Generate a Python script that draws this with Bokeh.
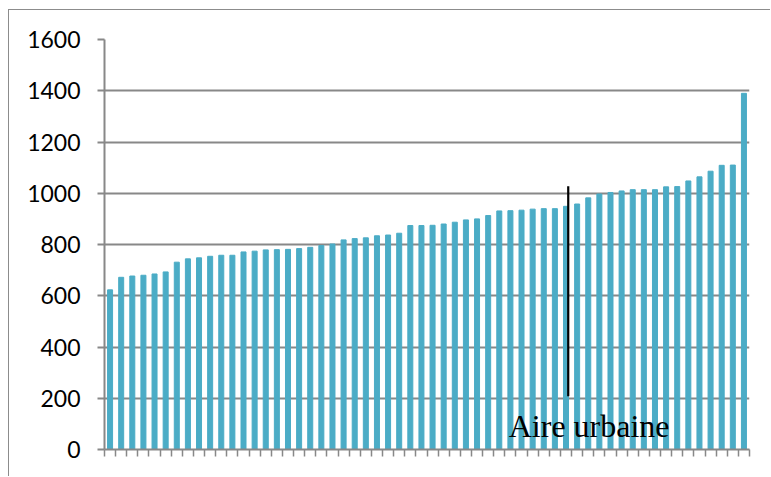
from bokeh.plotting import figure
from bokeh.models import ColumnDataSource, Range1d, FixedTicker, Label
from bokeh.embed import file_html
from bokeh.resources import INLINE

# Data (58 sorted values)
values = [623, 672, 677, 680, 685, 693, 731, 744, 748, 754,
          758, 758, 771, 774, 779, 780, 781, 784, 789, 796,
          802, 818, 823, 826, 834, 837, 844, 874, 874, 875,
          880, 887, 896, 900, 913, 931, 932, 934, 938, 940,
          940, 949, 958, 982, 997, 1003, 1009, 1014, 1014, 1014,
          1025, 1026, 1048, 1064, 1086, 1109, 1110, 1390]
positions = list(range(1, len(values) + 1))
y_ticks = [0, 200, 400, 600, 800, 1000, 1200, 1400, 1600]
marker_x = [42.2, 42.2]
marker_y = [208, 1027]
annotation_text = "Aire urbaine"

n = len(values)
src = ColumnDataSource(dict(x=positions, top=values))

p = figure(width=762, height=467, output_backend="svg", toolbar_location=None,
           x_range=Range1d(0.5, n + 0.5), y_range=Range1d(0, 1600),
           min_border_left=95, min_border_right=22, min_border_top=29, min_border_bottom=28)
p.styles = {"margin-left": "8px", "margin-top": "9px",
            "border-left": "1px solid #8c8c8c", "border-top": "1px solid #8c8c8c"}
p.outline_line_color = None
p.background_fill_color = "white"
p.border_fill_color = "white"

p.vbar(x="x", top="top", width=0.45, bottom=0, source=src, color="#4BACC6")

p.line(marker_x, marker_y, line_color="black", line_width=2.2)

p.add_layout(Label(x=36.85, y=90, text=annotation_text, text_font="Liberation Serif",
                   text_font_size="32px", text_color="black", text_baseline="alphabetic"))

# grid
p.xgrid.visible = False
p.ygrid.grid_line_color = "#888888"
p.ygrid.grid_line_width = 2
p.yaxis.ticker = FixedTicker(ticks=y_ticks)

# x axis
p.xaxis.ticker = FixedTicker(ticks=[i + 0.5 for i in range(0, n + 1)])
p.xaxis.major_label_text_font_size = "0px"
p.xaxis.major_label_text_color = None
p.xaxis.axis_line_color = "#888888"
p.xaxis.axis_line_width = 2
p.xaxis.major_tick_line_color = "#888888"
p.xaxis.major_tick_line_width = 1.5
p.xaxis.major_tick_in = 0
p.xaxis.major_tick_out = 7
p.xaxis.minor_tick_line_color = None

# y axis
p.yaxis.axis_line_color = "#888888"
p.yaxis.axis_line_width = 2
p.yaxis.major_tick_line_color = "#888888"
p.yaxis.major_tick_line_width = 2
p.yaxis.major_tick_in = 0
p.yaxis.major_tick_out = 7
p.yaxis.minor_tick_line_color = None
p.yaxis.major_label_text_font = "Lato"
p.yaxis.major_label_text_font_size = "23px"
p.yaxis.major_label_text_color = "black"
p.yaxis.major_label_standoff = 17

open("out.html", "w").write(file_html(p, INLINE))
